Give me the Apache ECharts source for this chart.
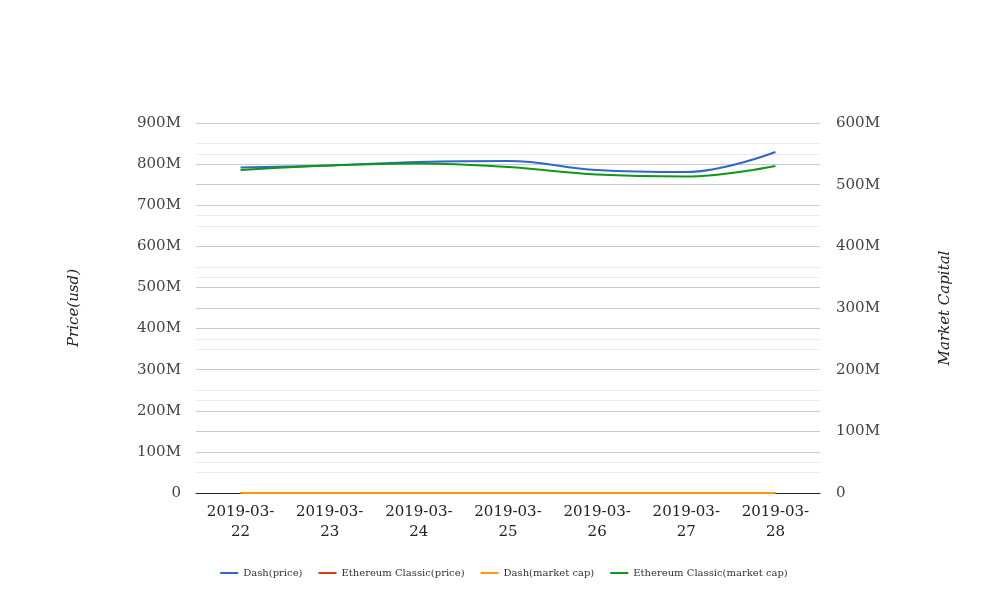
<!DOCTYPE html>
<html>
<head>
<meta charset="utf-8">
<script src="https://cdn.jsdelivr.net/npm/echarts@6/dist/echarts.min.js"></script>
<style>html,body{margin:0;padding:0;background:#fff;}#c{width:1008px;height:616px;}</style>
</head>
<body>
<div id="c"></div>
<script>
var categories = ['2019-03-22','2019-03-23','2019-03-24','2019-03-25','2019-03-26','2019-03-27','2019-03-28'];
var dashPrice = [791.8e6, 796.7e6, 805e6, 807.6e6, 785.7e6, 780.8e6, 829.5e6];
var etcPrice = [4.6, 4.7, 4.7, 4.6, 4.5, 4.5, 4.6];
var dashMarketCap = [90, 91, 92, 91, 88, 87, 92];
var etcMarketCap = [523.8e6, 531e6, 534.3e6, 528.6e6, 516.5e6, 513.3e6, 530.3e6];
var leftTicks = {min: 0, max: 900e6, interval: 100e6};
var rightTicks = {min: 0, max: 600e6, interval: 100e6};

var font = 'DejaVu Serif';
function fmt(v){ return v === 0 ? '0' : (v/1e6) + 'M'; }
var chart = echarts.init(document.getElementById('c'));
chart.setOption({
  animation: false,
  color: ['#3366cc','#dc3912','#ff9900','#109618'],
  textStyle: {fontFamily: font},
  grid: {left: 196, right: 188, top: 123, bottom: 123, containLabel: false},
  legend: {
    bottom: 33, left: 'center', itemWidth: 18, itemHeight: 2, itemGap: 16,
    icon: 'rect',
    textStyle: {fontFamily: font, fontSize: 10, color: '#333'},
    data: ['Dash(price)','Ethereum Classic(price)','Dash(market cap)','Ethereum Classic(market cap)']
  },
  xAxis: {
    type: 'category', data: categories, boundaryGap: true,
    axisLine: {lineStyle: {color: '#222', width: 1}},
    axisTick: {show: false},
    axisLabel: {fontFamily: font, fontSize: 15, color: '#222', margin: 9, lineHeight: 20, interval: 0,
      formatter: function(v){ return v.slice(0,8) + '\n' + v.slice(8); }}
  },
  yAxis: [
    {
      type: 'value', min: leftTicks.min, max: leftTicks.max, interval: leftTicks.interval,
      name: 'Price(usd)', nameLocation: 'middle', nameGap: 114,
      nameTextStyle: {fontFamily: font, fontSize: 15, fontStyle: 'italic', color: '#222'},
      axisLine: {show: false}, axisTick: {show: false},
      axisLabel: {fontFamily: font, fontSize: 15, color: '#444', margin: 15, padding: [3,0,0,0], formatter: fmt},
      splitLine: {lineStyle: {color: '#ccc'}},
      minorTick: {show: false, splitNumber: 2},
      minorSplitLine: {show: true, lineStyle: {color: '#ebebeb'}}
    },
    {
      type: 'value', min: rightTicks.min, max: rightTicks.max, interval: rightTicks.interval,
      name: 'Market Capital', nameLocation: 'middle', nameGap: 118, nameRotate: 90,
      nameTextStyle: {fontFamily: font, fontSize: 15, fontStyle: 'italic', color: '#222'},
      axisLine: {show: false}, axisTick: {show: false},
      axisLabel: {fontFamily: font, fontSize: 15, color: '#444', margin: 16, padding: [3,0,0,0], formatter: fmt},
      splitLine: {lineStyle: {color: '#ccc'}},
      minorTick: {show: false, splitNumber: 2},
      minorSplitLine: {show: true, lineStyle: {color: '#ebebeb'}}
    }
  ],
  series: [
    {name: 'Dash(price)', type: 'line', yAxisIndex: 0, data: dashPrice, smooth: 0.4, showSymbol: false, lineStyle: {width: 2}},
    {name: 'Ethereum Classic(price)', type: 'line', yAxisIndex: 0, data: etcPrice, smooth: 0.4, showSymbol: false, lineStyle: {width: 2}},
    {name: 'Dash(market cap)', type: 'line', yAxisIndex: 0, data: dashMarketCap, smooth: 0.4, showSymbol: false, lineStyle: {width: 2}},
    {name: 'Ethereum Classic(market cap)', type: 'line', yAxisIndex: 1, data: etcMarketCap, smooth: 0.4, showSymbol: false, lineStyle: {width: 2}}
  ]
});
</script>
</body>
</html>
